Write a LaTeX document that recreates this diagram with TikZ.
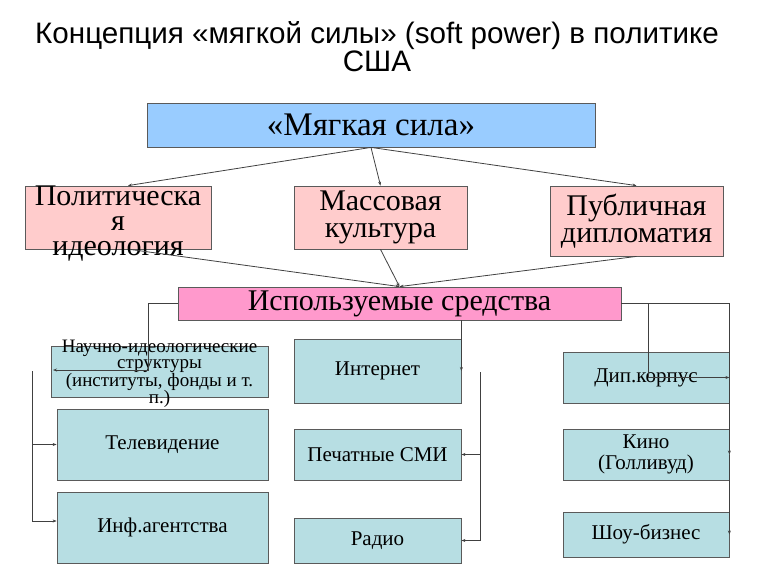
\documentclass[tikz,border=0pt]{standalone}
\usepackage{fontspec}
\setmainfont{Liberation Serif}
\newfontfamily\titlefont{Liberation Sans}
\usetikzlibrary{arrows.meta}
\definecolor{softblue}{HTML}{99CCFF}
\definecolor{softpink}{HTML}{FFCCCC}
\definecolor{meanspink}{HTML}{FF99CC}
\definecolor{mediacyan}{HTML}{B7DEE3}
\definecolor{edgegray}{HTML}{5A5A5A}
\definecolor{linegray}{HTML}{404040}
\tikzset{
  box/.style={draw=edgegray, line width=0.8pt, inner sep=0pt, align=center},
  topbox/.style={box, fill=softblue, font=\fontsize{33}{34}\selectfont},
  themebox/.style={box, fill=softpink, font=\fontsize{30}{27}\selectfont},
  meansbox/.style={box, fill=meanspink, font=\fontsize{30}{31}\selectfont},
  mediabox/.style={box, fill=mediacyan, font=\fontsize{21}{21}\selectfont},
  arr/.style={draw=linegray, line width=0.8pt, -{Stealth[length=4pt,width=3pt]}},
  link/.style={draw=linegray, line width=0.8pt}
}
\begin{document}
\begin{tikzpicture}[x=1pt, y=-1pt]
  \useasboundingbox (0,0) rectangle (768,576);
  \node[font=\titlefont\fontsize{29.6}{24}\selectfont, align=center] (title) at (377,47)
    {Концепция «мягкой силы» (soft power) в политике\\США};
  \node[topbox, minimum width=448, minimum height=44] (soft) at (371,125) {«Мягкая сила»};
  \node[themebox, minimum width=186, minimum height=63] (pol) at (118,217.5)
    {\fontsize{30}{25}\selectfont\smash{\raisebox{-13pt}{\begin{tabular}{@{}c@{}}Политическа\\я\\идеология\end{tabular}}}};
  \node[themebox, minimum width=173, minimum height=63] (mass) at (380.5,217.5) {Массовая\\культура};
  \node[themebox, minimum width=173, minimum height=70] (publ) at (636.5,221) {Публичная\\дипломатия};
  \node[meansbox, minimum width=443, minimum height=33] (means) at (399.5,303.5) {Используемые средства};
  \node[mediabox, minimum width=217, minimum height=51] (nauch) at (159.5,371.5)
    {\fontsize{19}{16}\selectfont\smash{\raisebox{-7pt}{\begin{tabular}{@{}c@{}}Научно-идеологические\\структуры\\(институты, фонды и т.\\п.)\end{tabular}}}};
  \node[mediabox, minimum width=211, minimum height=71] (tv) at (162.5,444.5) {Телевидение};
  \node[mediabox, minimum width=211, minimum height=71] (inf) at (162.5,527.5) {Инф.агентства};
  \node[mediabox, minimum width=167, minimum height=64] (inet) at (377.5,371) {Интернет};
  \node[mediabox, minimum width=167, minimum height=51] (print) at (377.5,454.5) {Печатные СМИ};
  \node[mediabox, minimum width=167, minimum height=45] (radio) at (377.5,540.5) {Радио};
  \node[mediabox, minimum width=166, minimum height=51] (dip) at (646,377.5) {Дип.корпус};
  \node[mediabox, minimum width=166, minimum height=51] (kino) at (646,454.5) {Кино\\(Голливуд)};
  \node[mediabox, minimum width=166, minimum height=45] (show) at (646,534.5) {Шоу-бизнес};
  \coordinate (lbend) at (148,370);
  \coordinate (ltip) at (53,370);
  \coordinate (ltop) at (32,371);
  \coordinate (lbot) at (32,521);
  \coordinate (mtop) at (480,372);
  \begin{scope}
    \draw[arr] (soft.south) -- ([xshift=10pt]pol.north);
    \draw[arr] (soft.south) -- (mass.north);
    \draw[arr] (soft.south) -- (publ.north);
    \draw[arr] ([xshift=12pt]pol.south) -- (means.north);
    \draw[arr] (mass.south) -- (means.north);
    \draw[arr] (publ.south) -- (means.north);
    % left column
    \draw[arr] (means.west) -| (lbend) -- (ltip);
    \draw[link] (ltop) -- (lbot);
    \draw[arr] (ltop |- tv.west) -- (tv.west);
    \draw[arr] (lbot) -- (lbot -| inf.west);
    % middle column
    \draw[arr] (means.south -| inet.east) -- (inet.east);
    \draw[arr] (mtop) |- (radio.east);
    \draw[arr] (mtop |- print.east) -- (print.east);
    % right column
    \draw[arr] (means.east) -| (kino.east);
    \draw[arr] (kino.east) -- (show.east);
    \draw[arr] ([xshift=27pt]means.east) |- (dip.east);
  \end{scope}
\end{tikzpicture}
\end{document}
